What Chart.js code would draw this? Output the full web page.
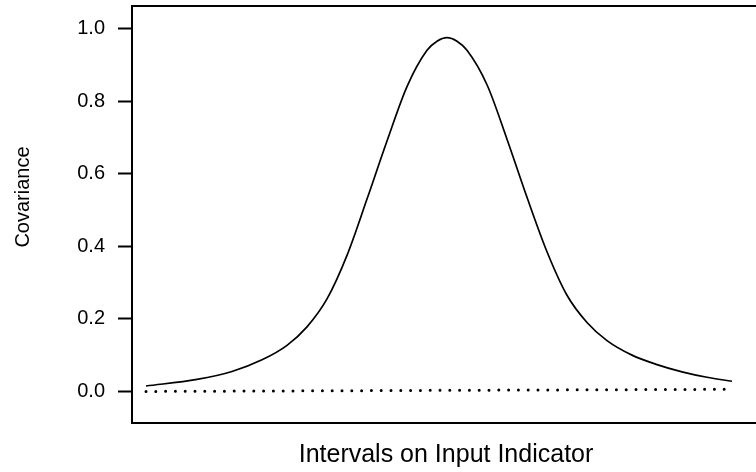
<!DOCTYPE html>
<html>
<head>
<meta charset="utf-8">
<script src="https://cdn.jsdelivr.net/npm/chart.js@4/dist/chart.umd.min.js"></script>
<style>
  html, body { margin: 0; padding: 0; background: #fff; overflow: hidden; }
  #wrap { width: 760px; height: 472px; position: relative; }
</style>
</head>
<body>
<div id="wrap"><canvas id="chart"></canvas></div>
<script>
// values (x in interval units, y = covariance)
var intervals  = [1.4, 6.5, 10.0, 13.0, 15.5, 17.5, 19.5, 21.5, 23.5, 25.5, 27.5, 29.5, 30.5, 31.5,
                  32.5, 33.5, 35.5, 37.5, 39.5, 41.5, 43.5, 45.5, 47.5, 50.0, 52.5, 55.0, 57.5, 60.0];
var covariance = [0.015, 0.033, 0.055, 0.087, 0.127, 0.178, 0.255, 0.375, 0.53, 0.69, 0.84, 0.94, 0.965, 0.975,
                  0.965, 0.94, 0.845, 0.695, 0.535, 0.385, 0.265, 0.19, 0.14, 0.10, 0.074, 0.054, 0.039, 0.028];
var baselineX  = [1.4, 60.1];
var baselineY  = [0, 0.006];
var yTicks     = [0, 0.2, 0.4, 0.6, 0.8, 1.0];
var yTitle     = "Covariance";
var xTitle     = "Intervals on Input Indicator";

var pts = function(xs, ys) {
  return xs.map(function(x, i) { return {x: x, y: ys[i]}; });
};

// frame round the plot region (like R's box()) and the y label
var boxPlugin = {
  id: "box",
  afterDraw: function(chart) {
    var a = chart.chartArea, ctx = chart.ctx;
    ctx.save();
    ctx.strokeStyle = "#000";
    ctx.lineWidth = 2;
    ctx.strokeRect(a.left, a.top, a.right - a.left, a.bottom - a.top);
    ctx.translate(23, 197);
    ctx.rotate(-Math.PI / 2);
    ctx.fillStyle = "#000";
    ctx.font = "20px 'Liberation Sans', Arial, sans-serif";
    ctx.textAlign = "center";
    ctx.textBaseline = "middle";
    ctx.fillText(yTitle, 0, 0);
    ctx.restore();
  }
};

Chart.defaults.font.family = "'Liberation Sans', Arial, sans-serif";
Chart.defaults.color = "#000";

new Chart(document.getElementById("chart"), {
  type: "line",
  data: {
    datasets: [{
      data: pts(intervals, covariance),
      borderColor: "#000",
      borderWidth: 1.7,
      pointRadius: 0,
      cubicInterpolationMode: "monotone",
      fill: false
    }, {
      data: pts(baselineX, baselineY),
      borderColor: "#000",
      borderWidth: 3,
      borderDash: [0, 9.8],
      borderCapStyle: "round",
      pointRadius: 0,
      fill: false
    }]
  },
  options: {
    responsive: true,
    maintainAspectRatio: false,
    animation: false,
    layout: { padding: { top: 6, left: 0, right: 0, bottom: 0 } },
    plugins: { legend: { display: false }, tooltip: { enabled: false } },
    scales: {
      x: {
        type: "linear",
        min: 0,
        max: 62.8,
        grid: { display: false },
        border: { display: false },
        ticks: { display: false },
        title: {
          display: true,
          text: xTitle,
          font: { size: 25 },
          padding: { top: 0, bottom: 2 }
        },
        afterFit: function(s) { s.height = 49; }
      },
      y: {
        min: -0.087,
        max: 1.062,
        border: { display: false },
        grid: {
          drawOnChartArea: false,
          drawTicks: true,
          tickLength: 14,
          tickWidth: 2,
          tickColor: "#000"
        },
        afterBuildTicks: function(s) {
          s.ticks = yTicks.map(function(v) { return {value: v}; });
        },
        ticks: {
          padding: 13,
          font: { size: 20 },
          callback: function(v) { return Number(v).toFixed(1); }
        },
        afterFit: function(s) {
          s.width = 132;
          s.paddingTop = 0;
          s.paddingBottom = 0;
        }
      }
    }
  },
  plugins: [boxPlugin]
});
</script>
</body>
</html>
